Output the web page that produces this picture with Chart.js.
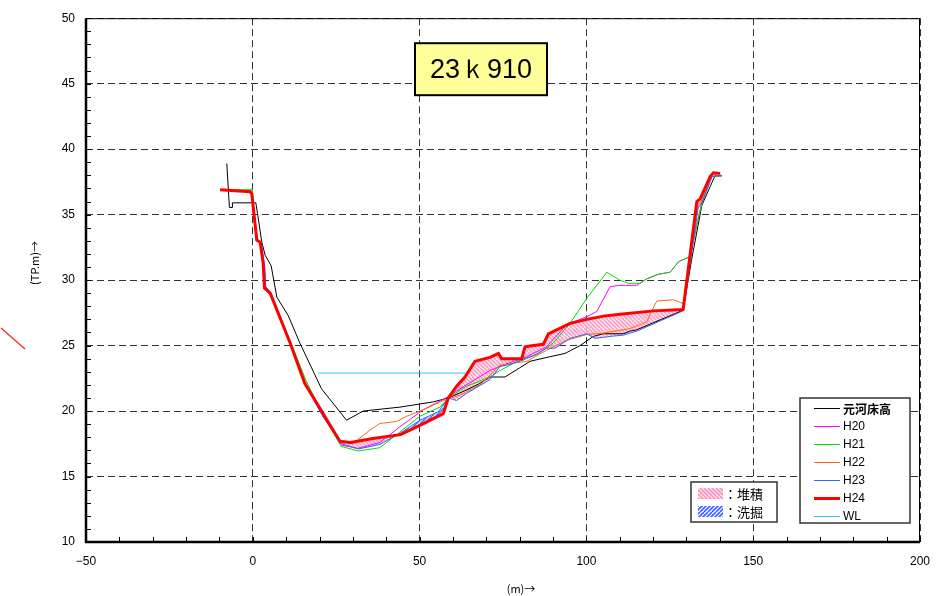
<!DOCTYPE html>
<html>
<head>
<meta charset="utf-8">
<script src="https://cdn.jsdelivr.net/npm/chart.js@4.4.1/dist/chart.umd.min.js"></script>
<style>
  html, body { margin: 0; padding: 0; background: #fff; }
</style>
</head>
<body>
<canvas id="chart" width="952" height="596"></canvas>
<script>
const sectionName = "23ｋ910";
const xTitle = "(m)→";
const yTitle = "(TP.m)→";
const xTicks = [-50, 0, 50, 100, 150, 200];
const yTicks = [10, 15, 20, 25, 30, 35, 40, 45, 50];
const hatchLabels = ["：堆積", "：洗掘"];

// [distance m, elevation TP.m]
const origBed = [
  [-7.8, 38.9], [-7.0, 35.55], [-6.1, 35.55], [-6.1, 35.9], [0.9, 35.9],
  [1.4, 35.1], [2.7, 32.9], [3.7, 31.9], [5.5, 31.1], [7.2, 28.7],
  [10.6, 27.3], [14.1, 25.2], [20.6, 21.7], [28.1, 19.3], [33.1, 20.0],
  [44.1, 20.3], [54.1, 20.7], [58.6, 21.0], [64.0, 21.6], [68.0, 22.1],
  [71.1, 22.6], [75.6, 22.6], [80.0, 23.3], [83.1, 23.8], [89.1, 24.15],
  [93.6, 24.4], [98.1, 25.0], [102.1, 25.7], [105.0, 25.9],
  [111.0, 25.9], [113.0, 26.1], [115.0, 26.2], [129.0, 27.7], [131.5, 31.5],
  [134.6, 35.7], [138.6, 38.0], [140.6, 38.0]
];
const h20 = [
  [-9.8, 36.9], [-0.8, 36.8], [-0.2, 36.8], [1.2, 33.0], [2.4, 32.9],
  [3.3, 31.2], [3.8, 29.4], [5.4, 29.0], [11.4, 25.1], [15.9, 22.0],
  [21.0, 19.6], [26.6, 17.4], [31.6, 17.15], [38.1, 17.6], [44.1, 18.8],
  [51.1, 20.1], [58.6, 21.1], [62.1, 21.7], [71.1, 23.1], [76.0, 23.6],
  [82.1, 24.15], [88.0, 24.9], [94.1, 26.6], [100.1, 27.2], [103.1, 27.6],
  [107.1, 29.5], [109.6, 29.6], [115.1, 29.6], [118.1, 30.1], [121.6, 30.45],
  [125.1, 30.6], [127.6, 31.4], [131.1, 31.8], [133.6, 34.8], [134.6, 35.85],
  [137.6, 37.9], [140.6, 37.95]
];
const h21 = [
  [-9.8, 36.9], [-0.8, 36.9], [-0.2, 37.0], [1.0, 33.0], [2.2, 32.9],
  [3.2, 31.2], [3.6, 29.4], [5.4, 28.9], [11.4, 25.2], [16.0, 22.3],
  [21.0, 19.7], [26.5, 17.3], [31.6, 16.95], [38.1, 17.2], [44.1, 18.4],
  [50.1, 19.6], [56.1, 20.3], [58.6, 21.0], [64.1, 21.9], [71.1, 22.6],
  [74.1, 23.1], [80.1, 23.9], [85.1, 24.3], [90.1, 25.2], [95.1, 26.7],
  [100.1, 28.6], [106.1, 30.6], [110.0, 30.0], [112.6, 29.75], [116.1, 29.75],
  [118.1, 30.1], [121.6, 30.45], [125.1, 30.6], [127.6, 31.4], [131.1, 31.8],
  [133.6, 34.8], [134.6, 35.85], [137.6, 37.9], [140.6, 37.95]
];
const h22 = [
  [-9.8, 36.9], [-0.8, 36.8], [-0.2, 36.6], [1.2, 33.0], [2.3, 32.9],
  [3.2, 31.3], [3.6, 29.4], [5.3, 29.0], [11.3, 25.2], [15.7, 22.1],
  [21.0, 19.7], [26.3, 17.6], [30.0, 17.5], [35.1, 18.55], [38.1, 19.05],
  [43.1, 19.2], [46.1, 19.6], [51.1, 20.1], [57.1, 20.8], [62.0, 21.2],
  [68.1, 22.0], [74.1, 23.5], [82.1, 23.8], [88.1, 24.65], [94.1, 25.4],
  [100.1, 25.85], [105.1, 25.95], [113.1, 26.3], [118.1, 26.8], [119.6, 27.65],
  [121.1, 28.4], [126.1, 28.5], [129.0, 28.2], [133.3, 35.6], [134.4, 36.0],
  [137.4, 37.9], [140.4, 38.0]
];
const h23 = [
  [-9.8, 36.9], [-0.8, 36.75], [-0.2, 36.5], [1.3, 33.0], [2.6, 32.8],
  [3.6, 31.0], [3.9, 29.5], [5.5, 29.0], [11.5, 25.1], [15.8, 22.0],
  [21.0, 19.6], [26.6, 17.5], [31.6, 17.1], [38.1, 17.45], [44.1, 18.3],
  [50.1, 19.3], [55.6, 19.95], [58.6, 21.0], [61.1, 20.8], [64.1, 21.35],
  [71.1, 22.4], [74.1, 23.4], [77.6, 23.6], [81.1, 23.9], [85.1, 24.35],
  [88.1, 24.8], [90.6, 24.8], [95.1, 25.55], [100.1, 25.9], [102.6, 25.55],
  [107.1, 25.7], [111.1, 25.8], [115.1, 26.1], [129.0, 27.65], [133.5, 35.5],
  [134.6, 35.9], [137.6, 37.9], [140.6, 38.0]
];
const h24 = [
  [-9.8, 36.9], [-0.8, 36.75], [-0.3, 36.6], [1.2, 33.05], [2.2, 32.9],
  [3.1, 31.3], [3.5, 29.4], [5.2, 29.0], [11.2, 25.2], [15.6, 22.1],
  [26.1, 17.7], [29.3, 17.6], [36.0, 17.9], [44.3, 18.2], [50.1, 18.9],
  [57.1, 19.8], [58.6, 21.0], [61.1, 21.9], [63.6, 22.6], [66.6, 23.8],
  [71.1, 24.1], [73.6, 24.4], [74.6, 24.0], [80.6, 24.0], [81.6, 24.9],
  [84.1, 25.0], [87.1, 25.1], [88.6, 25.9], [95.1, 26.7], [100.1, 27.0],
  [105.1, 27.25], [110.1, 27.4], [120.1, 27.65], [129.0, 27.75], [133.1, 36.0],
  [134.1, 36.2], [137.1, 37.9], [138.1, 38.2], [140.1, 38.15]
];
const waterLevel = [[19.6, 22.9], [64.1, 22.9]];

const xy = (arr) => arr.map(([x, y]) => ({ x, y }));

function hatch(bg, fg, dir) {
  const c = document.createElement("canvas");
  c.width = c.height = 8;
  const g = c.getContext("2d");
  g.fillStyle = bg;
  g.fillRect(0, 0, 8, 8);
  g.strokeStyle = fg;
  g.lineWidth = 1.6;
  g.beginPath();
  for (let k = -16; k <= 16; k += 4) {
    if (dir > 0) { g.moveTo(k, 0); g.lineTo(k + 8, 8); }
    else { g.moveTo(k + 8, 0); g.lineTo(k, 8); }
  }
  g.stroke();
  return g.createPattern(c, "repeat");
}

const ctx = document.getElementById("chart").getContext("2d");
const pinkHatch = hatch("rgba(255,225,236,0.75)", "rgba(255,140,185,0.8)", 1);
const blueHatch = hatch("rgba(225,232,255,0.8)", "rgba(60,100,255,0.85)", -1);

function line(label, data, color, width, order) {
  return {
    label, data: xy(data), borderColor: color, backgroundColor: color,
    borderWidth: width, pointRadius: 0, tension: 0, fill: false, order,
  };
}

const datasets = [
  line("元河床高", origBed, "#000000", 1, 5),
  line("H20", h20, "#ff00ff", 1, 4),
  line("H21", h21, "#00dd00", 1, 3),
  line("H22", h22, "#ff6a10", 1, 2),
  line("H23", h23, "#3366ff", 1, 1),
  line("H24", h24, "#ff0000", 3, 0),
  line("WL", waterLevel, "#33c4f0", 1, 6),
];
datasets[5].fill = { target: 4, above: pinkHatch, below: blueHatch };

const decor = {
  id: "decor",
  afterDraw(chart) {
    const { ctx, chartArea: a, scales: { x, y } } = chart;
    ctx.save();
    // minor ticks inside
    ctx.strokeStyle = "#000";
    ctx.lineWidth = 1;
    ctx.beginPath();
    for (let v = yTicks[0]; v <= yTicks[yTicks.length - 1]; v += 1) {
      const py = Math.round(y.getPixelForValue(v)) + 0.5;
      ctx.moveTo(a.left, py); ctx.lineTo(a.left + 5, py);
    }
    for (let v = xTicks[0]; v <= xTicks[xTicks.length - 1]; v += 10) {
      const px = Math.round(x.getPixelForValue(v)) + 0.5;
      ctx.moveTo(px, a.bottom); ctx.lineTo(px, a.bottom - 5);
    }
    ctx.stroke();
    // frame
    ctx.strokeRect(a.left + 0.5, a.top + 0.5, a.width - 1, a.height - 1);
    ctx.lineWidth = 2.5;
    ctx.beginPath();
    ctx.moveTo(a.left, a.top); ctx.lineTo(a.left, a.bottom); ctx.lineTo(a.right, a.bottom);
    ctx.stroke();

    // section name box
    const bx = a.left + 329, by = a.top + 25;
    ctx.fillStyle = "#ffff99";
    ctx.fillRect(bx, by, 132, 52);
    ctx.lineWidth = 2;
    ctx.strokeRect(bx, by, 132, 52);
    ctx.fillStyle = "#000";
    ctx.font = '27px "Liberation Sans", sans-serif';
    ctx.textAlign = "center";
    ctx.textBaseline = "middle";
    ctx.fillText(sectionName, bx + 66, by + 27);

    // line legend
    const lx = a.right - 120, ly = a.bottom - 144;
    ctx.fillStyle = "#fff";
    ctx.fillRect(lx, ly, 110, 125);
    ctx.lineWidth = 1.5;
    ctx.strokeStyle = "#333";
    ctx.strokeRect(lx, ly, 110, 125);
    ctx.textAlign = "left";
    chart.data.datasets.forEach((ds, i) => {
      const ry = ly + 10 + i * 18;
      ctx.strokeStyle = ds.borderColor;
      ctx.lineWidth = ds.borderWidth;
      ctx.beginPath();
      ctx.moveTo(lx + 14, ry + 0.5); ctx.lineTo(lx + 40, ry + 0.5);
      ctx.stroke();
      ctx.fillStyle = "#000";
      ctx.font = i === 0 ? 'bold 12px "Noto Sans CJK JP", sans-serif' : '12px "Liberation Sans", sans-serif';
      ctx.fillText(ds.label, lx + 43, ry + 1);
    });

    // hatch legend
    const hx = a.right - 229, hy = a.bottom - 60;
    ctx.fillStyle = "#fff";
    ctx.fillRect(hx, hy, 86, 40);
    ctx.strokeStyle = "#333";
    ctx.lineWidth = 1.5;
    ctx.strokeRect(hx, hy, 86, 40);
    [pinkHatch, blueHatch].forEach((p, i) => {
      const sy = hy + 6 + i * 18;
      ctx.fillStyle = i === 0 ? hatch("#ffe4ef", "#ff8fc0", 1) : hatch("#ffffff", "#3a64ff", -1);
      ctx.fillRect(hx + 7, sy, 25, 11);
      ctx.fillStyle = "#000";
      ctx.font = '13px "Noto Sans CJK JP", sans-serif';
      ctx.fillText(hatchLabels[i], hx + 33, sy + 6);
    });

    // axis titles
    ctx.font = '11px "Noto Sans CJK JP", sans-serif';
    ctx.textAlign = "center";
    ctx.fillText(xTitle, 521, 589);
    ctx.translate(35, 263);
    ctx.rotate(-Math.PI / 2);
    ctx.fillText(yTitle, 0, 0);
    ctx.restore();

    // stray red stroke at left margin
    ctx.save();
    ctx.strokeStyle = "#ff2020";
    ctx.lineWidth = 1.2;
    ctx.beginPath();
    ctx.moveTo(1, 328); ctx.lineTo(25, 349);
    ctx.stroke();
    ctx.restore();
  },
};

const fixTicks = (vals) => (scale) => {
  scale.ticks = vals.map((v) => ({ value: v }));
};

new Chart(ctx, {
  type: "line",
  data: { datasets },
  options: {
    responsive: false,
    animation: false,
    layout: { padding: { left: 0, top: 18, right: 32, bottom: 0 } },
    plugins: {
      legend: { display: false },
      tooltip: { enabled: false },
      filler: { drawTime: "beforeDatasetsDraw" },
    },
    scales: {
      x: {
        type: "linear",
        min: -50,
        max: 200,
        afterBuildTicks: fixTicks(xTicks),
        afterFit: (s) => { s.height = 54; },
        grid: { color: "#333", lineWidth: 1, drawTicks: false },
        border: { display: false, dash: [7, 4] },
        ticks: {
          color: "#000",
          padding: 12,
          maxRotation: 0,
          font: { family: "Liberation Sans", size: 12 },
          callback: (v) => String(v).replace("-", "−"),
        },
      },
      y: {
        min: 10,
        max: 50,
        afterBuildTicks: fixTicks(yTicks),
        afterFit: (s) => { s.width = 86; },
        grid: { color: "#333", lineWidth: 1, drawTicks: false },
        border: { display: false, dash: [7, 4] },
        ticks: {
          color: "#000",
          padding: 11,
          font: { family: "Liberation Sans", size: 12 },
        },
      },
    },
  },
  plugins: [decor],
});
</script>
</body>
</html>
